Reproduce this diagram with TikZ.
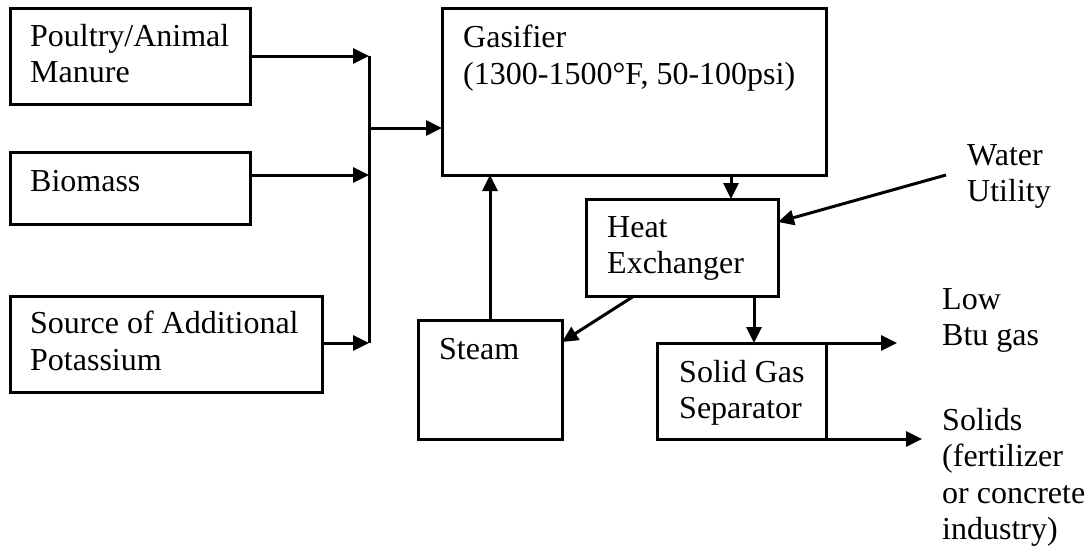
\documentclass[tikz,border=0pt]{standalone}
\usepackage{fontspec}
\setmainfont{Liberation Serif}
\usetikzlibrary{arrows.meta}
\tikzset{
  box/.style={draw, line width=3pt, anchor=north west, inner sep=0pt, outer sep=0pt},
  lbl/.style={anchor=north west, inner sep=0pt, align=left, font=\fontsize{32}{36.5}\selectfont},
  conn/.style={line width=3pt},
  arr/.style={conn, -{Triangle[length=16pt,width=15pt]}}
}
\begin{document}
\begin{tikzpicture}[x=1pt,y=-1pt]
\useasboundingbox (0,0) rectangle (1089,550);
% boxes
\node[box, minimum width=240pt, minimum height=96pt] (P) at (10,8) {};
\node[box, minimum width=240pt, minimum height=72pt] (B) at (10,152) {};
\node[box, minimum width=312pt, minimum height=96pt] (S) at (10,296) {};
\node[box, minimum width=384pt, minimum height=167pt] (G) at (442,8) {};
\node[box, minimum width=192pt, minimum height=97pt] (H) at (586,199) {};
\node[box, minimum width=144pt, minimum height=119pt] (St) at (418,320) {};
\node[box, minimum width=169pt, minimum height=96pt] (Sep) at (657,343) {};
% texts
\node[lbl] (Pt) at (30,24) {Poultry/Animal\\Manure};
\node[lbl] (Bt) at (30,170) {Biomass};
\node[lbl] (St1) at (30,311) {Source of Additional\\Potassium};
\node[lbl] (Gt) at (463,25) {Gasifier\\(1300-1500°F, 50-100psi)};
\node[lbl] (Ht) at (607,216) {Heat\\Exchanger};
\node[lbl] (Stt) at (439,338) {Steam};
\node[lbl] (Sept) at (679,360) {Solid Gas\\Separator};
\node[lbl] (Wt) at (967,144) {Water\\Utility};
\node[lbl] (Lt) at (942,288) {Low\\Btu gas};
\node[lbl] (Sot) at (942,408) {Solids\\(fertilizer\\or concrete\\industry)};
% helper coordinates
\coordinate (busT) at (369,56);
\coordinate (busB) at (369,343);
\coordinate (busBio) at (369,175);
\coordinate (busMid) at (369,128);
\coordinate (gx) at (731,0);
\coordinate (wStart) at (946,175);
\coordinate (wy) at (0,222);
\coordinate (hsx) at (634,0);
\coordinate (sty) at (0,342);
\coordinate (hdx) at (754,0);
\coordinate (lowEnd) at (897,343);
\coordinate (solEnd) at (922,439);
% connectors
\draw[arr] (P.east) -- (busT);
\draw[arr] (B.east |- busBio) -- (busBio);
\draw[arr] (S.east |- busB) -- (busB);
\draw[conn] (busT) -- (busB);
\draw[arr] (busMid) -- (busMid -| G.west);
\draw[arr] (St.north) -- (St.north |- G.south);
\draw[arr] (G.south -| gx) -- (H.north -| gx);
\draw[arr] (wStart) -- (H.east |- wy);
\draw[arr] (H.south -| hsx) -- (St.east |- sty);
\draw[arr] (H.south -| hdx) -- (Sep.north -| hdx);
\draw[arr] (Sep.north east) -- (lowEnd);
\draw[arr] (Sep.south east) -- (solEnd);
\end{tikzpicture}
\end{document}
